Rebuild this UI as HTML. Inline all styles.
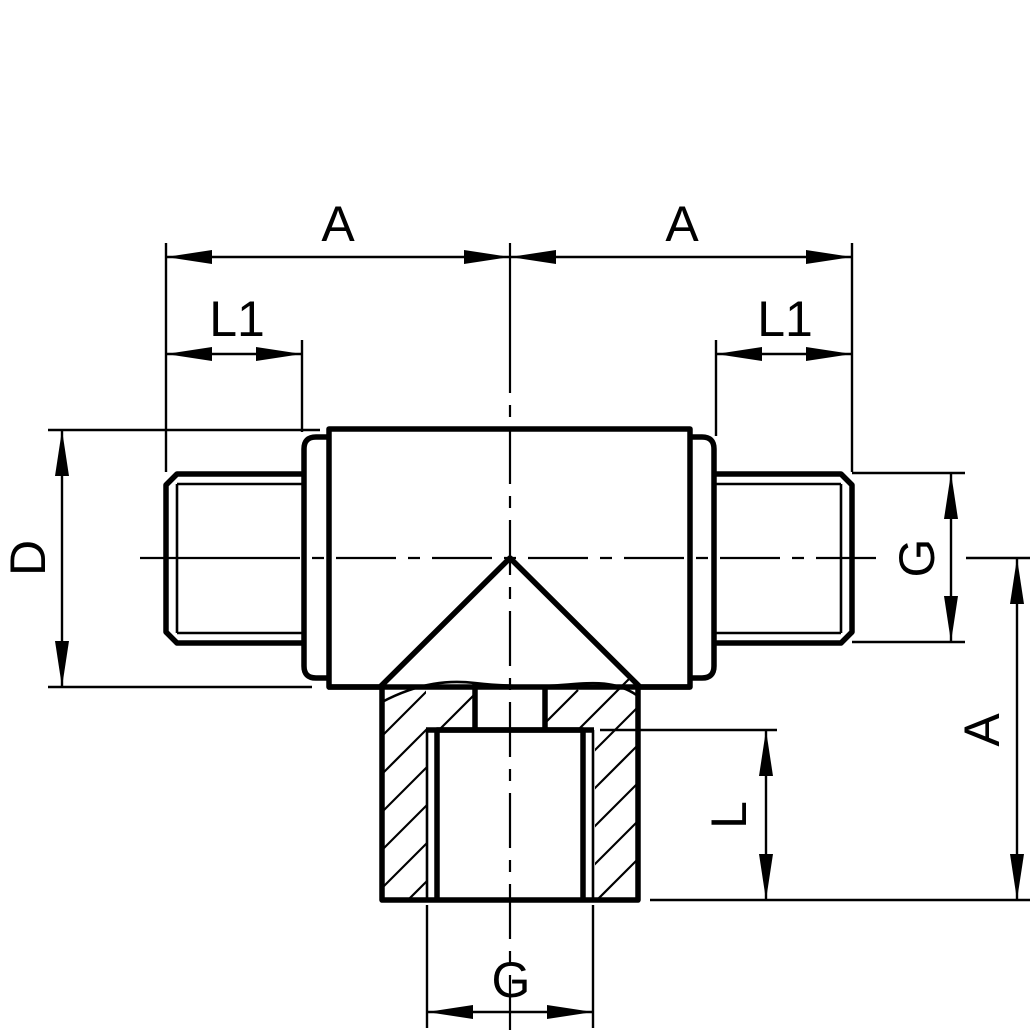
<!DOCTYPE html>
<html><head><meta charset="utf-8"><style>
html,body{margin:0;padding:0;background:#fff;}
svg{display:block;}
text{font-family:"Liberation Sans",Arial,sans-serif;font-size:50px;fill:#000;}
</style></head><body>
<svg width="1035" height="1035" viewBox="0 0 1035 1035" xmlns="http://www.w3.org/2000/svg">
<defs>
<clipPath id="lw"><rect x="384" y="684" width="42" height="214"/></clipPath>
<clipPath id="rw"><rect x="595" y="684" width="42" height="214"/></clipPath>
</defs>
<g fill="none" stroke="#000">
<line x1="510" y1="243" x2="510" y2="1030" stroke-width="2.2" stroke-dasharray="150 12 12 12 55 12 12 12 55 12 12 12 55 12 12 12 55 12 12 12 55 12 12 12 55 12 12 12 55 12 12 12 55 12 12 12 55 12 12 12"/>
<line x1="140" y1="558" x2="880" y2="558" stroke-width="2.2" stroke-dasharray="160 12 12 12 60 12 12 12 60 12 12 12 60 12 12 12 60 12 12 12 60 12 12 12 60 12 12 12"/>
<g stroke-width="5.5" stroke-linejoin="round">
<rect x="329" y="429" width="361" height="258"/>
<path d="M328 687 H380 L510 558 L640 687 H690"/>
<path d="M328 437 H316 Q304 437 304 449 V666 Q304 678 316 678 H328"/>
<path d="M690 437 H702 Q714 437 714 449 V666 Q714 678 702 678 H690"/>
<path d="M304 474 H177 L166 485 V632 L177 643 H304"/>
<path d="M714 474 H841 L852 485 V632 L841 643 H714"/>
<path d="M382 687 V900 H638 V687"/>
<path d="M437 900 V730 H583 V900"/>
<line x1="426" y1="730" x2="594" y2="730"/>
<line x1="475" y1="683" x2="475" y2="730"/>
<line x1="545" y1="686" x2="545" y2="730"/>
</g>
<g stroke-width="2.6">
<line x1="177" y1="484" x2="304" y2="484"/>
<line x1="177" y1="633" x2="304" y2="633"/>
<line x1="177" y1="484" x2="177" y2="633"/>
<line x1="714" y1="484" x2="841" y2="484"/>
<line x1="714" y1="633" x2="841" y2="633"/>
<line x1="841" y1="484" x2="841" y2="633"/>
<line x1="427" y1="730" x2="427" y2="900"/>
<line x1="593" y1="730" x2="593" y2="900"/>
<path d="M382 702 C420 682 450 680 475 683 C500 686 520 686 545 686 C580 685 610 676 638 696"/>
</g>
<g stroke-width="2.2">
<g clip-path="url(#lw)">
<line x1="380" y1="738" x2="480" y2="638"/><line x1="380" y1="776" x2="480" y2="676"/>
<line x1="380" y1="814" x2="480" y2="714"/><line x1="380" y1="852" x2="480" y2="752"/>
<line x1="380" y1="890" x2="480" y2="790"/><line x1="400" y1="908" x2="500" y2="808"/>
</g>
<line x1="437" y1="732" x2="475" y2="694"/>
<line x1="545" y1="723" x2="578" y2="690"/>
<line x1="578" y1="730" x2="630" y2="678"/>
<g clip-path="url(#rw)">
<line x1="585" y1="760" x2="685" y2="660"/><line x1="585" y1="798" x2="685" y2="698"/>
<line x1="585" y1="836" x2="685" y2="736"/><line x1="585" y1="874" x2="685" y2="774"/>
<line x1="585" y1="912" x2="685" y2="812"/><line x1="585" y1="950" x2="685" y2="850"/>
</g>
</g>
<g stroke-width="2.4">
<line x1="166" y1="243" x2="166" y2="472"/>
<line x1="852" y1="243" x2="852" y2="472"/>
<line x1="852" y1="473" x2="965" y2="473"/>
<line x1="852" y1="642" x2="965" y2="642"/>
<line x1="302" y1="340" x2="302" y2="432"/>
<line x1="716" y1="340" x2="716" y2="436"/>
<line x1="48" y1="430" x2="320" y2="430"/>
<line x1="48" y1="687" x2="312" y2="687"/>
<line x1="966" y1="558" x2="1030" y2="558"/>
<line x1="650" y1="900" x2="1030" y2="900"/>
<line x1="600" y1="730" x2="777" y2="730"/>
<line x1="427" y1="905" x2="427" y2="1028"/>
<line x1="593" y1="905" x2="593" y2="1028"/>
<line x1="166" y1="257" x2="852" y2="257"/>
<line x1="166" y1="354" x2="302" y2="354"/>
<line x1="716" y1="354" x2="852" y2="354"/>
<line x1="62" y1="430" x2="62" y2="687"/>
<line x1="951" y1="473" x2="951" y2="642"/>
<line x1="1017" y1="558" x2="1017" y2="900"/>
<line x1="766" y1="730" x2="766" y2="900"/>
<line x1="427" y1="1012" x2="593" y2="1012"/>
</g>
</g>
<g fill="#000">
<polygon points="166,257 212,250 212,264"/><polygon points="510,257 464,250 464,264"/>
<polygon points="510,257 556,250 556,264"/><polygon points="852,257 806,250 806,264"/>
<polygon points="166,354 212,347 212,361"/><polygon points="302,354 256,347 256,361"/>
<polygon points="716,354 762,347 762,361"/><polygon points="852,354 806,347 806,361"/>
<polygon points="62,430 55,476 69,476"/><polygon points="62,687 55,641 69,641"/>
<polygon points="951,473 944,519 958,519"/><polygon points="951,642 944,596 958,596"/>
<polygon points="1017,558 1010,604 1024,604"/><polygon points="1017,900 1010,854 1024,854"/>
<polygon points="766,730 759,776 773,776"/><polygon points="766,900 759,854 773,854"/>
<polygon points="427,1012 473,1005 473,1019"/><polygon points="593,1012 547,1005 547,1019"/>
</g>
<text x="338" y="241" text-anchor="middle">A</text>
<text x="682" y="241" text-anchor="middle">A</text>
<text x="237" y="336" text-anchor="middle">L1</text>
<text x="785" y="336" text-anchor="middle">L1</text>
<text x="511" y="997" text-anchor="middle">G</text>
<text transform="translate(45,558) rotate(-90)" text-anchor="middle">D</text>
<text transform="translate(934,558) rotate(-90)" text-anchor="middle">G</text>
<text transform="translate(999,730) rotate(-90)" text-anchor="middle">A</text>
<text transform="translate(746,815) rotate(-90)" text-anchor="middle">L</text>
</svg>
</body></html>
